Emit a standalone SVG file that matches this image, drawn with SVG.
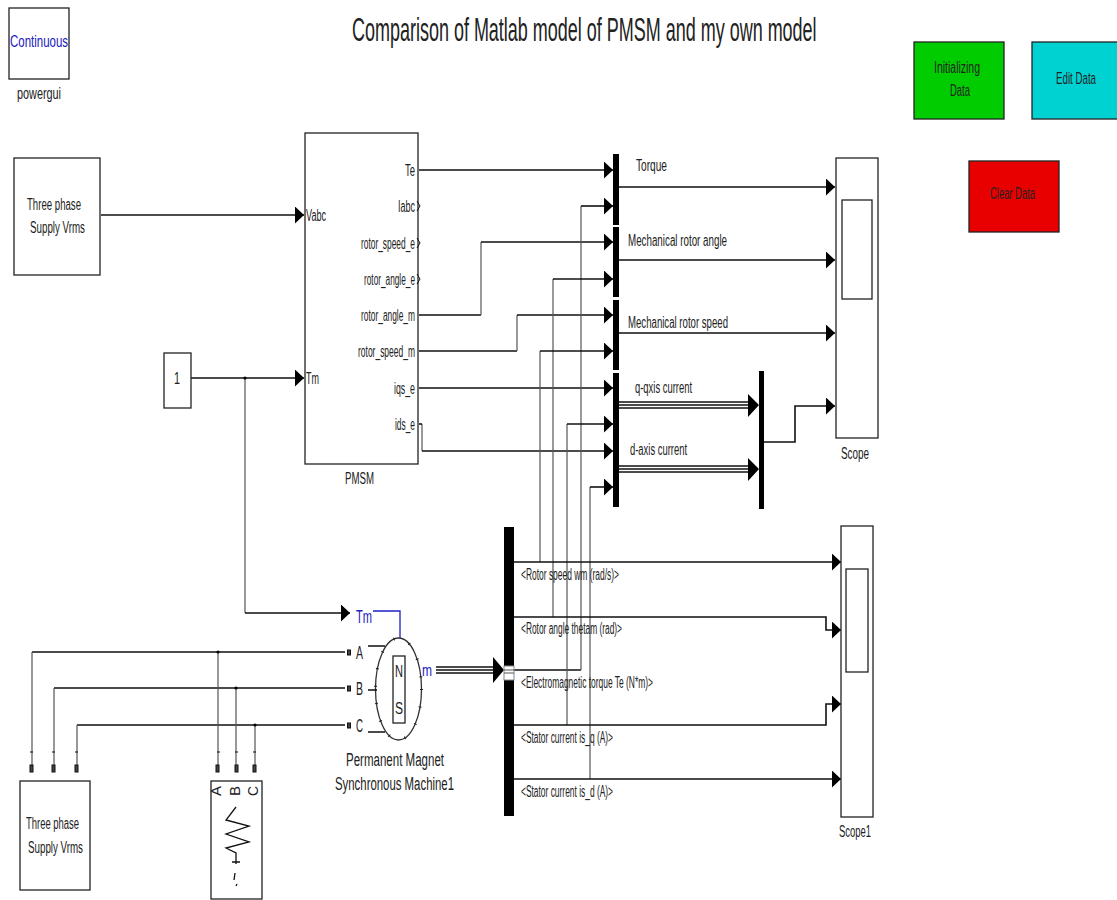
<svg xmlns="http://www.w3.org/2000/svg" width="1117" height="900" viewBox="0 0 1117 900">
<defs>
<marker id="ah" markerUnits="userSpaceOnUse" markerWidth="10" markerHeight="18" refX="9" refY="8.5" orient="auto"><path d="M0 0L9 8.5L0 17Z" fill="#000"/></marker>
</defs>
<style>
text{font-family:"Liberation Sans",Arial,sans-serif;font-size:16px;fill:#222}
.b{fill:#fff;stroke:#222;stroke-width:1.3}
.l{fill:none;stroke:#111;stroke-width:1.6}
.g{fill:none;stroke:#555;stroke-width:1.2}
.a{marker-end:url(#ah)}
.bar{fill:#000;stroke:none}
.bus{fill:none;stroke:#111;stroke-width:1.3}
.port{fill:#444;stroke:#111;stroke-width:1}
.c{font-size:18px}
</style>
<rect width="1117" height="900" fill="#fff"/>
<text id="title" transform="translate(352 41) scale(.545 1)" style="font-size:33px">Comparison of Matlab model of PMSM and my own model</text>

<g id="connectors">
<path class="l a" d="M101 215H304"/>
<path class="l a" d="M191 378H304"/>
<path class="g" d="M245 378V613"/><path class="l a" d="M245 613H350"/>
<path d="M373 611H400V638" fill="none" stroke="#2020c0" stroke-width="1.3"/>
<path class="l a" d="M419 170H613"/>
<path class="l" d="M419 315H481"/><path class="g" d="M481 315V242"/><path class="l a" d="M481 242H613"/>
<path class="l" d="M419 351H517"/><path class="g" d="M517 351V315"/><path class="l a" d="M517 315H613"/>
<path class="l a" d="M419 388H613"/>
<path class="g" d="M422 424V451"/><path class="l a" d="M422 451H613"/><path class="l" d="M419 424H422"/>
<path class="l" d="M514 670H581"/><path class="g" d="M581 670V206"/><path class="l a" d="M581 206H613"/>
<path class="g" d="M553 617V279"/><path class="l a" d="M553 279H613"/>
<path class="g" d="M540 562V351"/><path class="l a" d="M540 351H613"/>
<path class="g" d="M567 725V424"/><path class="l a" d="M567 424H613"/>
<path class="g" d="M590 779V487"/><path class="l a" d="M590 487H613"/>
<path class="l a" d="M619 187H835"/>
<path class="l a" d="M619 260H835"/>
<path class="l a" d="M619 333H835"/>
<path class="l a" d="M764 442H795V406H835"/>
<path class="bus" d="M619 402H752M619 405H752M619 408H752"/>
<path class="bus" d="M619 466H752M619 469H752M619 472H752"/>
<path d="M748 394L759 405L748 417ZM748 458L759 469L748 481Z" fill="#000"/>
<path class="l a" d="M514 562H841"/>
<path class="l a" d="M514 617H826V630H841"/>
<path class="l a" d="M514 725H826V704H841"/>
<path class="l a" d="M514 779H841"/>
<path class="bus" d="M436 667H495M436 670H495M436 673H495"/>
<path d="M493 657L504 670L493 683Z" fill="#000"/>
<path class="l" d="M32 652H345M54 688H345M77 725H345"/>
<path class="g" d="M32 652V765M54 688V765M77 725V765M218 652V765M236 688V765M255 725V765"/>
<circle cx="218" cy="652" r="1.6"/><circle cx="236" cy="688" r="1.6"/><circle cx="255" cy="725" r="1.6"/><circle cx="245" cy="378" r="1.6"/>
<path d="M30 752h3M52 752h3M75 752h3M217 752h3M235 752h3M253 752h3" stroke="#111" stroke-width="1.2"/>
</g>

<g id="powergui"><rect class="b" x="9" y="8" width="60" height="71"/><text x="10" y="47" textLength="58" lengthAdjust="spacingAndGlyphs" style="fill:#2020c0">Continuous</text><text x="17" y="99" textLength="44" lengthAdjust="spacingAndGlyphs">powergui</text></g>
<g id="btn-init"><rect x="914" y="42" width="90" height="77" fill="#00cc00" stroke="#222" stroke-width="1.3"/><text x="934" y="73" textLength="46" lengthAdjust="spacingAndGlyphs">Initializing</text><text x="950" y="96" textLength="20" lengthAdjust="spacingAndGlyphs">Data</text></g>
<g id="btn-edit"><rect x="1032" y="42" width="90" height="77" fill="#00d2d2" stroke="#222" stroke-width="1.3"/><text transform="translate(1056 84) scale(.608 1)">Edit Data</text></g>
<g id="btn-clear"><rect x="969" y="161" width="90" height="71" fill="#e80000" stroke="#222" stroke-width="1.3"/><text x="990" y="199" textLength="45" lengthAdjust="spacingAndGlyphs">Clear Data</text></g>

<g id="source1"><rect class="b" x="14" y="158" width="86" height="117"/><text x="27" y="210" textLength="54" lengthAdjust="spacingAndGlyphs">Three phase</text><text x="30" y="233" textLength="55" lengthAdjust="spacingAndGlyphs">Supply Vrms</text></g>
<g id="constant"><rect class="b" x="164" y="353" width="27" height="55"/><text x="174" y="384" textLength="6" lengthAdjust="spacingAndGlyphs">1</text></g>
<g id="pmsm"><rect class="b" x="305" y="133" width="113" height="331"/>
<text x="306" y="221" textLength="20" lengthAdjust="spacingAndGlyphs">Vabc</text><text x="306" y="384" textLength="13" lengthAdjust="spacingAndGlyphs">Tm</text>
<text x="405" y="176" textLength="10" lengthAdjust="spacingAndGlyphs">Te</text>
<text x="398" y="212" textLength="17" lengthAdjust="spacingAndGlyphs">Iabc</text>
<text x="361" y="249" textLength="54" lengthAdjust="spacingAndGlyphs">rotor_speed_e</text>
<text x="364" y="285" textLength="51" lengthAdjust="spacingAndGlyphs">rotor_angle_e</text>
<text x="361" y="321" textLength="54" lengthAdjust="spacingAndGlyphs">rotor_angle_m</text>
<text x="358" y="357" textLength="57" lengthAdjust="spacingAndGlyphs">rotor_speed_m</text>
<text x="394" y="394" textLength="21" lengthAdjust="spacingAndGlyphs">iqs_e</text>
<text x="395" y="430" textLength="20" lengthAdjust="spacingAndGlyphs">ids_e</text>
<path class="l" style="stroke-width:1" d="M417 201L420 206L417 211M417 238L420 243L417 248M417 274L420 279L417 284"/>
<text x="345" y="484" textLength="29" lengthAdjust="spacingAndGlyphs">PMSM</text></g>

<g id="mux1"><rect class="bar" x="613" y="154" width="6" height="71"/></g>
<g id="mux2"><rect class="bar" x="613" y="227" width="6" height="70"/></g>
<g id="mux3"><rect class="bar" x="613" y="300" width="6" height="70"/></g>
<g id="mux4"><rect class="bar" x="613" y="373" width="6" height="134"/></g>
<g id="mux5"><rect class="bar" x="759" y="371" width="5" height="138"/></g>
<g id="labels">
<text x="636" y="171" textLength="31" lengthAdjust="spacingAndGlyphs">Torque</text>
<text x="628" y="246" textLength="99" lengthAdjust="spacingAndGlyphs">Mechanical rotor angle</text>
<text x="628" y="328" textLength="100" lengthAdjust="spacingAndGlyphs">Mechanical rotor speed</text>
<text x="635" y="393" textLength="57" lengthAdjust="spacingAndGlyphs">q-qxis current</text>
<text x="630" y="455" textLength="57" lengthAdjust="spacingAndGlyphs">d-axis current</text>
<text x="521" y="580" textLength="98" lengthAdjust="spacingAndGlyphs">&lt;Rotor speed wm (rad/s)&gt;</text>
<text x="521" y="634" textLength="101" lengthAdjust="spacingAndGlyphs">&lt;Rotor angle thetam (rad)&gt;</text>
<text x="521" y="688" textLength="132" lengthAdjust="spacingAndGlyphs">&lt;Electromagnetic torque Te (N*m)&gt;</text>
<text x="521" y="743" textLength="92" lengthAdjust="spacingAndGlyphs">&lt;Stator current is_q (A)&gt;</text>
<text x="521" y="797" textLength="92" lengthAdjust="spacingAndGlyphs">&lt;Stator current is_d (A)&gt;</text>
</g>
<g id="scope"><rect class="b" x="836" y="158" width="42" height="280"/><rect class="b" x="842" y="200" width="30" height="99"/><text x="841" y="459" textLength="28" lengthAdjust="spacingAndGlyphs">Scope</text></g>
<g id="scope1"><rect class="b" x="841" y="526" width="32" height="291"/><rect class="b" x="846" y="569" width="22" height="103"/><text x="839" y="837" textLength="32" lengthAdjust="spacingAndGlyphs">Scope1</text></g>
<g id="demux"><rect class="bar" x="504" y="527" width="10" height="289"/><rect x="504" y="666" width="10" height="14" fill="#fff" stroke="#888" stroke-width="1"/><path d="M504 670H514M504 673H514" stroke="#555"/></g>
<g id="machine">
<ellipse cx="398.5" cy="689" rx="23" ry="51" fill="#fff" stroke="#333" stroke-width="1.3"/>
<ellipse cx="398.5" cy="689" rx="23" ry="51" fill="none" stroke="#222" stroke-width="3" stroke-dasharray="1 16.5"/>
<rect class="b" x="393" y="656" width="12" height="67"/>
<text x="395" y="677" textLength="8" lengthAdjust="spacingAndGlyphs">N</text><text x="395" y="714" textLength="8" lengthAdjust="spacingAndGlyphs">S</text>
<path class="l" d="M368 646H385M368 690H377M368 732H385"/>
<rect class="port" x="347.500" y="650" width="3" height="5"/><rect class="port" x="347.500" y="686" width="3" height="5"/><rect class="port" x="347.500" y="723" width="3" height="5"/>
<text x="356" y="659" textLength="7" lengthAdjust="spacingAndGlyphs" class="c">A</text><text x="356" y="695" textLength="7" lengthAdjust="spacingAndGlyphs" class="c">B</text><text x="356" y="732" textLength="7" lengthAdjust="spacingAndGlyphs" class="c">C</text>
<text x="356" y="623" textLength="16" lengthAdjust="spacingAndGlyphs" class="c" style="fill:#2020c0">Tm</text>
<text x="422" y="676" textLength="10" lengthAdjust="spacingAndGlyphs" style="fill:#2020c0">m</text>
<text x="346" y="766" textLength="98" lengthAdjust="spacingAndGlyphs" class="c">Permanent Magnet</text>
<text x="335" y="790" textLength="119" lengthAdjust="spacingAndGlyphs" class="c">Synchronous Machine1</text>
</g>
<g id="source2"><rect class="port" x="30" y="765" width="3" height="7"/><rect class="port" x="52" y="765" width="3" height="7"/><rect class="port" x="75" y="765" width="3" height="7"/>
<rect class="b" x="20" y="781" width="70" height="109"/><text x="26" y="829" textLength="53" lengthAdjust="spacingAndGlyphs">Three phase</text><text x="28" y="853" textLength="55" lengthAdjust="spacingAndGlyphs">Supply Vrms</text></g>
<g id="load"><rect class="port" x="216" y="765" width="3" height="7"/><rect class="port" x="235" y="765" width="3" height="7"/><rect class="port" x="253" y="765" width="3" height="7"/>
<rect class="b" x="211" y="781" width="51" height="118"/>
<text transform="translate(221 796) rotate(-90)" textLength="10" lengthAdjust="spacingAndGlyphs" style="font-size:14px">A</text><text transform="translate(240 796) rotate(-90)" textLength="10" lengthAdjust="spacingAndGlyphs" style="font-size:14px">B</text><text transform="translate(258 796) rotate(-90)" textLength="10" lengthAdjust="spacingAndGlyphs" style="font-size:14px">C</text>
<path d="M236 807L226 820L249 826L226 834L249 842L226 848L236 853V864M232 862H240M235 873L234 880M237 884L236 886" fill="none" stroke="#111" stroke-width="1.3"/></g>
</svg>
